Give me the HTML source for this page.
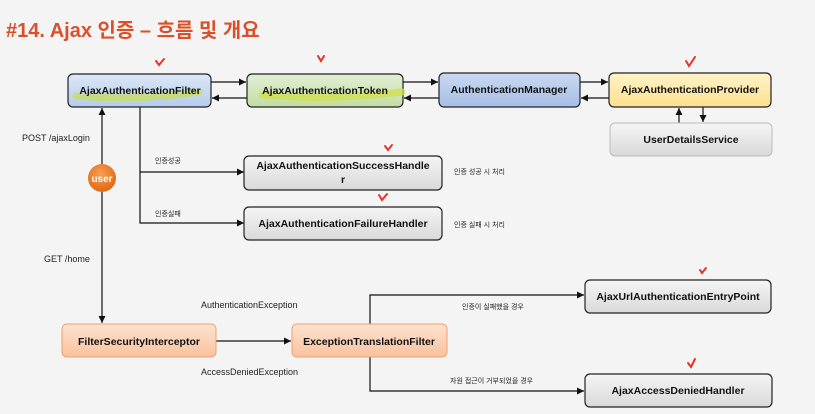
<!DOCTYPE html>
<html><head><meta charset="utf-8"><style>
body{margin:0;background:#f4f4f4;}
svg{display:block;font-family:"Liberation Sans","Noto Sans CJK KR",sans-serif;}
.b{font-weight:bold;font-size:10.5px;fill:#111;text-anchor:middle;}
.s{font-size:9px;fill:#222;}
.k{font-size:7px;fill:#222;}
</style></head><body>
<svg width="815" height="414" viewBox="0 0 815 414" xmlns="http://www.w3.org/2000/svg">
<defs>
<linearGradient id="blue" x1="0" y1="0" x2="0" y2="1"><stop offset="0" stop-color="#dce8f7"/><stop offset="1" stop-color="#b3cbeb"/></linearGradient>
<linearGradient id="blue2" x1="0" y1="0" x2="0" y2="1"><stop offset="0" stop-color="#c9d8f0"/><stop offset="1" stop-color="#a5bfe6"/></linearGradient>
<linearGradient id="green" x1="0" y1="0" x2="0" y2="1"><stop offset="0" stop-color="#e2efd3"/><stop offset="1" stop-color="#c3dca4"/></linearGradient>
<linearGradient id="yellow" x1="0" y1="0" x2="0" y2="1"><stop offset="0" stop-color="#fff3c8"/><stop offset="1" stop-color="#fde08f"/></linearGradient>
<linearGradient id="gray" x1="0" y1="0" x2="0" y2="1"><stop offset="0" stop-color="#f5f5f5"/><stop offset="1" stop-color="#d9d9d9"/></linearGradient>
<linearGradient id="orange" x1="0" y1="0" x2="0" y2="1"><stop offset="0" stop-color="#fde3d0"/><stop offset="1" stop-color="#f9c29e"/></linearGradient>
<radialGradient id="ball" cx="0.45" cy="0.35" r="0.7"><stop offset="0" stop-color="#f7a050"/><stop offset="1" stop-color="#e0630f"/></radialGradient>
<marker id="a" markerWidth="8" markerHeight="8" refX="7" refY="4" orient="auto" markerUnits="userSpaceOnUse"><path d="M0,0.5 L7,4 L0,7.5z" fill="#111"/></marker>
</defs>

<text x="6" y="37" font-size="20" font-weight="bold" fill="#d9502a">#14. Ajax 인증 – 흐름 및 개요</text>

<g stroke="#111" stroke-width="1.2" fill="none">
<line x1="211" y1="82" x2="246" y2="82" marker-end="url(#a)"/>
<line x1="247" y1="98" x2="212" y2="98" marker-end="url(#a)"/>
<line x1="403" y1="82" x2="438" y2="82" marker-end="url(#a)"/>
<line x1="439" y1="98" x2="404" y2="98" marker-end="url(#a)"/>
<line x1="580" y1="82" x2="608" y2="82" marker-end="url(#a)"/>
<line x1="609" y1="98" x2="581" y2="98" marker-end="url(#a)"/>
<line x1="679" y1="123" x2="679" y2="108" marker-end="url(#a)"/>
<line x1="703" y1="107" x2="703" y2="122" marker-end="url(#a)"/>
<line x1="102" y1="164" x2="102" y2="108" marker-end="url(#a)"/>
<line x1="102" y1="192" x2="102" y2="323" marker-end="url(#a)"/>
<polyline points="140,107 140,223 244,223" marker-end="url(#a)"/>
<line x1="140" y1="172" x2="244" y2="172" marker-end="url(#a)"/>
<line x1="216" y1="341" x2="291" y2="341" marker-end="url(#a)"/>
<polyline points="370,324 370,295 584,295" marker-end="url(#a)"/>
<polyline points="370,357 370,391 584,391" marker-end="url(#a)"/>
</g>

<g stroke="#222" stroke-width="1.2">
<rect x="68" y="74" width="143" height="33" rx="5" fill="url(#blue)"/>
<rect x="247" y="74" width="156" height="33" rx="5" fill="url(#green)"/>
<rect x="439" y="73" width="141" height="34" rx="5" fill="url(#blue2)"/>
<rect x="609" y="73" width="162" height="34" rx="5" fill="url(#yellow)"/>
<rect x="244" y="156" width="198" height="34" rx="5" fill="url(#gray)"/>
<rect x="244" y="207" width="198" height="33" rx="5" fill="url(#gray)"/>
<rect x="585" y="280" width="186" height="33" rx="5" fill="url(#gray)"/>
<rect x="585" y="374" width="187" height="33" rx="5" fill="url(#gray)"/>
</g>
<rect x="610" y="123" width="162" height="33" rx="5" fill="url(#gray)" stroke="#bbb"/>
<rect x="62" y="324" width="154" height="33" rx="5" fill="url(#orange)" stroke="#f0a070"/>
<rect x="292" y="324" width="155" height="33" rx="5" fill="url(#orange)" stroke="#f0a070"/>

<path d="M76,96 Q140,101 199,92" stroke="#c8dc5a" stroke-width="7" fill="none" opacity="0.75" stroke-linecap="round"/>
<path d="M262,95 Q330,101 402,92" stroke="#cfe04a" stroke-width="7" fill="none" opacity="0.75" stroke-linecap="round"/>

<text class="b" x="140" y="94">AjaxAuthenticationFilter</text>
<text class="b" x="325" y="94">AjaxAuthenticationToken</text>
<text class="b" x="509" y="93">AuthenticationManager</text>
<text class="b" x="690" y="93">AjaxAuthenticationProvider</text>
<text class="b" x="691" y="143">UserDetailsService</text>
<text class="b" x="343" y="169">AjaxAuthenticationSuccessHandle</text>
<text class="b" x="343" y="183">r</text>
<text class="b" x="343" y="227">AjaxAuthenticationFailureHandler</text>
<text class="b" x="678" y="300">AjaxUrlAuthenticationEntryPoint</text>
<text class="b" x="678" y="394">AjaxAccessDeniedHandler</text>
<text class="b" x="139" y="345">FilterSecurityInterceptor</text>
<text class="b" x="369" y="345">ExceptionTranslationFilter</text>

<circle cx="102" cy="178" r="14" fill="url(#ball)"/>
<text x="102" y="182" font-size="10" font-weight="bold" fill="#fff" text-anchor="middle">user</text>

<text class="s" x="22" y="141">POST /ajaxLogin</text>
<text class="s" x="44" y="262">GET /home</text>
<text class="k" x="155" y="163">인증성공</text>
<text class="k" x="155" y="216">인증실패</text>
<text class="k" x="454" y="174">인증 성공 시 처리</text>
<text class="k" x="454" y="227">인증 실패 시 처리</text>
<text class="s" x="201" y="308">AuthenticationException</text>
<text class="s" x="201" y="375">AccessDeniedException</text>
<text class="k" x="462" y="309">인증이 실패했을 경우</text>
<text class="k" x="450" y="383">자원 접근이 거부되었을 경우</text>

<g stroke="#e8322a" stroke-width="2" fill="none" stroke-linecap="round">
<path d="M156,61 l3,4 l5,-6"/>
<path d="M318,56 l3,5 l3,-5"/>
<path d="M686,61 l3,5 l6,-9"/>
<path d="M385,146 l3,4 l4,-5"/>
<path d="M379,195 l3,5 l5,-6"/>
<path d="M700,270 l2,3 l4,-5"/>
<path d="M688,363 l3,4 l4,-8"/>
</g>
</svg>
</body></html>
